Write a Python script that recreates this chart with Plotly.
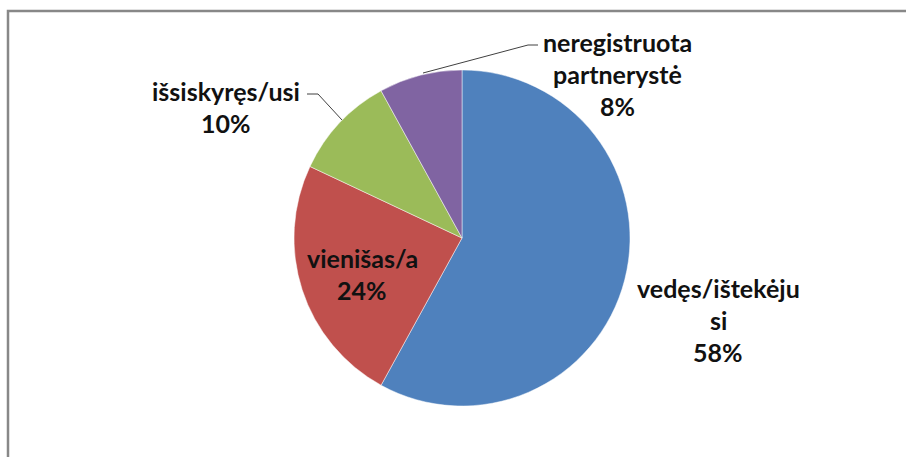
import plotly.graph_objects as go

W, H = 906, 457

labels = ["vedęs/ištekėju si", "vienišas/a", "išsiskyręs/usi", "neregistruota partnerystė"]
label_lines = [["vedęs/ištekėju", "si"], ["vienišas/a"], ["išsiskyręs/usi"], ["neregistruota", "partnerystė"]]
values = [58, 24, 10, 8]
colors = ["#4F81BD", "#C0504D", "#9BBB59", "#8064A2"]

# label positions in pixels: centre x, first line y
label_pos = [(718, 288), (362, 258), (226, 91), (617, 42)]
line_gap = 32


def px(x, y):
    return x / W, 1 - y / H


fig = go.Figure()

# pie centred at (462, 238) with radius ~168 px
cx, cy, r = 462, 238, 168
fig.add_trace(
    go.Pie(
        labels=labels,
        values=values,
        marker=dict(colors=colors, line=dict(color="rgba(255,255,255,0.6)", width=0.8)),
        sort=False,
        direction="clockwise",
        rotation=0,
        textinfo="none",
        hoverinfo="label+percent",
        showlegend=False,
        domain=dict(x=[(cx - r) / W, (cx + r) / W], y=[1 - (cy + r) / H, 1 - (cy - r) / H]),
    )
)

total = sum(values)
for lines, v, (x, y) in zip(label_lines, values, label_pos):
    for i, t in enumerate(lines + [f"{round(100 * v / total)}%"]):
        ax, ay = px(x, y + i * line_gap)
        fig.add_annotation(
            x=ax, y=ay, xref="paper", yref="paper",
            text=f"<b>{t}</b>",
            showarrow=False,
            font=dict(family="Lato", size=25, color="#111111"),
            xanchor="center", yanchor="middle",
        )

# leader lines
leaders = [
    [(423, 73), (528, 45), (538, 45)],
    [(342, 120), (318, 94), (307, 94)],
]
for pts in leaders:
    path = "M " + " L ".join(f"{px(x, y)[0]},{px(x, y)[1]}" for x, y in pts)
    fig.add_shape(type="path", path=path, xref="paper", yref="paper",
                  line=dict(color="#404040", width=1))

# chart frame
x0, y0 = px(8, 11)
x1, y1 = px(912, 470)
fig.add_shape(type="rect", xref="paper", yref="paper", x0=x0, y0=y1, x1=x1, y1=y0,
              line=dict(color="#888888", width=2.5), fillcolor="rgba(0,0,0,0)")

fig.update_layout(
    width=W, height=H,
    margin=dict(l=0, r=0, t=0, b=0),
    paper_bgcolor="white",
    plot_bgcolor="white",
)

fig.write_html("out.html", config={"displayModeBar": False},
               post_script="document.body.style.margin='0';")
